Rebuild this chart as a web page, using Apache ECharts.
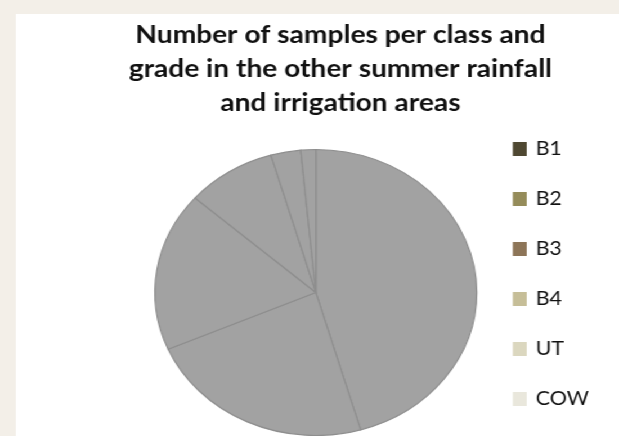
<!DOCTYPE html>
<html>
<head>
<meta charset="utf-8">
<script src="https://cdn.jsdelivr.net/npm/echarts@6/dist/echarts.min.js"></script>
<style>
  html, body { margin: 0; padding: 0; width: 619px; height: 436px; overflow: hidden; background: #f3efe8; }
  #stage { position: absolute; left: 0; top: 0; width: 550px; height: 436px; transform: scaleX(1.1255); transform-origin: 0 0; }
  #panel { position: absolute; left: 14.2px; top: 14px; width: 540px; height: 422px; background: #ffffff; }
  #main { position: absolute; left: 0; top: 0; width: 550px; height: 436px; }
</style>
</head>
<body>
<div id="stage">
  <div id="panel"></div>
  <div id="main"></div>
</div>
<script>
var titleText = 'Number of samples per class and\ngrade in the other summer rainfall\nand irrigation areas';
var categories = ['B1', 'B2', 'B3', 'B4', 'UT', 'COW'];
var sampleCounts = [91, 46, 36, 18, 6, 3];
var legendColors = ['#4f4832', '#958c5a', '#8d7558', '#c6be98', '#dbd7bf', '#e9e7dc'];

var chart = echarts.init(document.getElementById('main'), null, { renderer: 'canvas' });
chart.setOption({
  animation: false,
  title: {
    text: titleText,
    left: 297.5,
    textAlign: 'center',
    top: 13,
    textStyle: { fontFamily: 'Lato', fontWeight: 'bold', fontSize: 25, lineHeight: 34, color: '#111111' }
  },
  legend: {
    orient: 'vertical',
    left: 455.6,
    top: 139,
    padding: 0,
    itemWidth: 12.4,
    itemHeight: 14,
    itemGap: 30,
    icon: 'rect',
    textStyle: { fontFamily: 'Lato', fontSize: 19, lineHeight: 20, color: '#111111', padding: [0, 0, 0, 3] },
    data: categories.map(function (c, i) {
      return { name: c, itemStyle: { color: legendColors[i], borderWidth: 0, borderColor: 'transparent' } };
    })
  },
  series: [{
    type: 'pie',
    center: [280.6, 292.5],
    radius: 143,
    startAngle: 90,
    clockwise: true,
    label: { show: false },
    labelLine: { show: false },
    itemStyle: { color: '#a2a2a2', borderColor: '#8e8e8e', borderWidth: 1.2 },
    emphasis: { disabled: true },
    data: categories.map(function (c, i) { return { name: c, value: sampleCounts[i] }; })
  }]
});
</script>
</body>
</html>
